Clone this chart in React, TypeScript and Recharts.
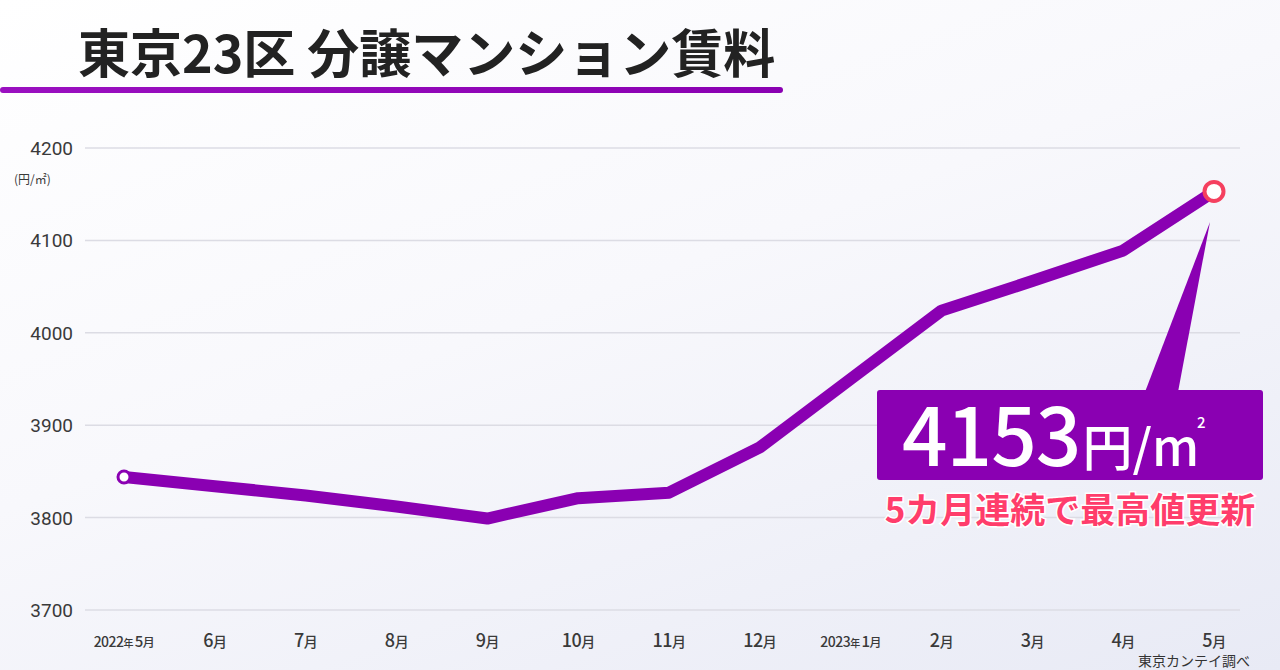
import React from 'react';
import { LineChart, Line, XAxis, YAxis, CartesianGrid } from 'recharts';

const months = ['2022年5月', '6月', '7月', '8月', '9月', '10月', '11月', '12月', '2023年1月', '2月', '3月', '4月', '5月'];
const rents = [3844, 3834, 3824, 3812, 3799, 3821, 3827, 3876, 3950, 4024, 4056, 4089, 4153];
const yTicks = [3700, 3800, 3900, 4000, 4100, 4200];

const data = months.map((m, i) => ({ month: m, rent: rents[i] }));

const PURPLE = '#8a00b2';
const PINK = '#f5405f';
const FONT = '"Noto Sans CJK JP", "Noto Sans", sans-serif';

// x tick: year part gets a small 年
const MonthTick = (props: any) => {
  const { x, y, payload } = props;
  const label: string = payload.value;
  const parts = label.split('年');
  return (
    <text x={x} y={y + 29} textAnchor="middle" fill="#3a3a3a" fontFamily={FONT} fontSize={18} fontWeight={500} letterSpacing={-0.5}>
      {parts.length > 1 ? (
        <>
          <tspan fontSize={14}>{parts[0]}</tspan>
          <tspan fontSize={10}>年 </tspan>
          <tspan fontSize={15}>{parts[1].replace('月', '')}</tspan>
          <tspan fontSize={12}>月</tspan>
        </>
      ) : (
        <>
          <tspan>{label.replace('月', '')}</tspan>
          <tspan fontSize={14}>月</tspan>
        </>
      )}
    </text>
  );
};

const RentTick = (props: any) => {
  const { x, y, payload } = props;
  return (
    <text x={x - 4} y={y + 7} textAnchor="end" fill="#3a3a3a" fontFamily="Roboto, sans-serif" fontSize={19}>
      {payload.value}
    </text>
  );
};

const renderDot = (props: any) => {
  const { cx, cy, index } = props;
  if (index === 0) {
    return <circle key="first" cx={cx} cy={cy} r={6} fill="#fff" stroke={PURPLE} strokeWidth={3} />;
  }
  if (index === rents.length - 1) {
    return <circle key="last" cx={cx} cy={cy} r={9.5} fill="#fff" stroke={PINK} strokeWidth={4} />;
  }
  return <g key={`d-${index}`} />;
};

export default function App() {
  return (
    <div
      style={{
        position: 'absolute',
        left: 0,
        top: 0,
        width: 1280,
        height: 670,
        overflow: 'hidden',
        background: 'linear-gradient(160deg, #ffffff 0%, #f8f8fc 45%, #e8eaf5 100%)',
        fontFamily: FONT,
      }}
    >
      <div
        style={{
          position: 'absolute',
          left: 78,
          top: 13,
          fontSize: 52,
          fontWeight: 700,
          color: '#222',
          letterSpacing: 0,
          whiteSpace: 'nowrap',
        }}
      >
        東京23区 分譲マンション賃料
      </div>
      <div
        style={{
          position: 'absolute',
          left: 0,
          top: 87,
          width: 783,
          height: 6,
          background: 'linear-gradient(90deg, #9a10c0, #8a00b2)',
          borderRadius: 3,
        }}
      />
      <div style={{ position: 'absolute', left: 14, top: 170, fontSize: 12, color: '#3a3a3a', whiteSpace: 'nowrap' }}>
        (円/㎡)
      </div>

      <div style={{ position: 'absolute', left: 0, top: 0 }}>
        <LineChart width={1280} height={670} data={data} margin={{ top: 148, right: 40, left: 0, bottom: 0 }}>
          <CartesianGrid horizontal vertical={false} stroke="#dcdce4" strokeWidth={1.5} />
          <XAxis
            dataKey="month"
            height={60}
            axisLine={false}
            tickLine={false}
            interval={0}
            padding={{ left: 39, right: 26 }}
            tick={<MonthTick />}
          />
          <YAxis
            domain={[3700, 4200]}
            ticks={yTicks}
            width={85}
            axisLine={false}
            tickLine={false}
            tick={<RentTick />}
          />
          <Line
            type="linear"
            dataKey="rent"
            stroke={PURPLE}
            strokeWidth={12}
            strokeLinejoin="round"
            dot={renderDot}
            activeDot={false}
            isAnimationActive={false}
          />
        </LineChart>
      </div>

      {/* callout */}
      <svg width={1280} height={670} style={{ position: 'absolute', left: 0, top: 0, pointerEvents: 'none' }}>
        <polygon points="1145,392 1178,392 1210,222" fill={PURPLE} />
        <rect x={877} y={390} width={386} height={90} rx={3} fill={PURPLE} />
        <text x={902} y={466} fill="#fff" fontFamily={FONT} fontWeight={500}>
          <tspan fontSize={80} letterSpacing={-1}>4153</tspan>
          <tspan fontSize={50} dx={2}>円/m</tspan>
          <tspan fontSize={15} dx={-2} dy={-38}>2</tspan>
        </text>
        <text x={1070} y={523} textAnchor="middle" fill="#ff3d6b" stroke="#fff" strokeWidth={3} paintOrder="stroke" fontFamily={FONT} fontSize={35} fontWeight={700}>
          5カ月連続で最高値更新
        </text>
      </svg>

      <div style={{ position: 'absolute', left: 1138, top: 650, fontSize: 14, color: '#333', whiteSpace: 'nowrap' }}>
        東京カンテイ調べ
      </div>
    </div>
  );
}
